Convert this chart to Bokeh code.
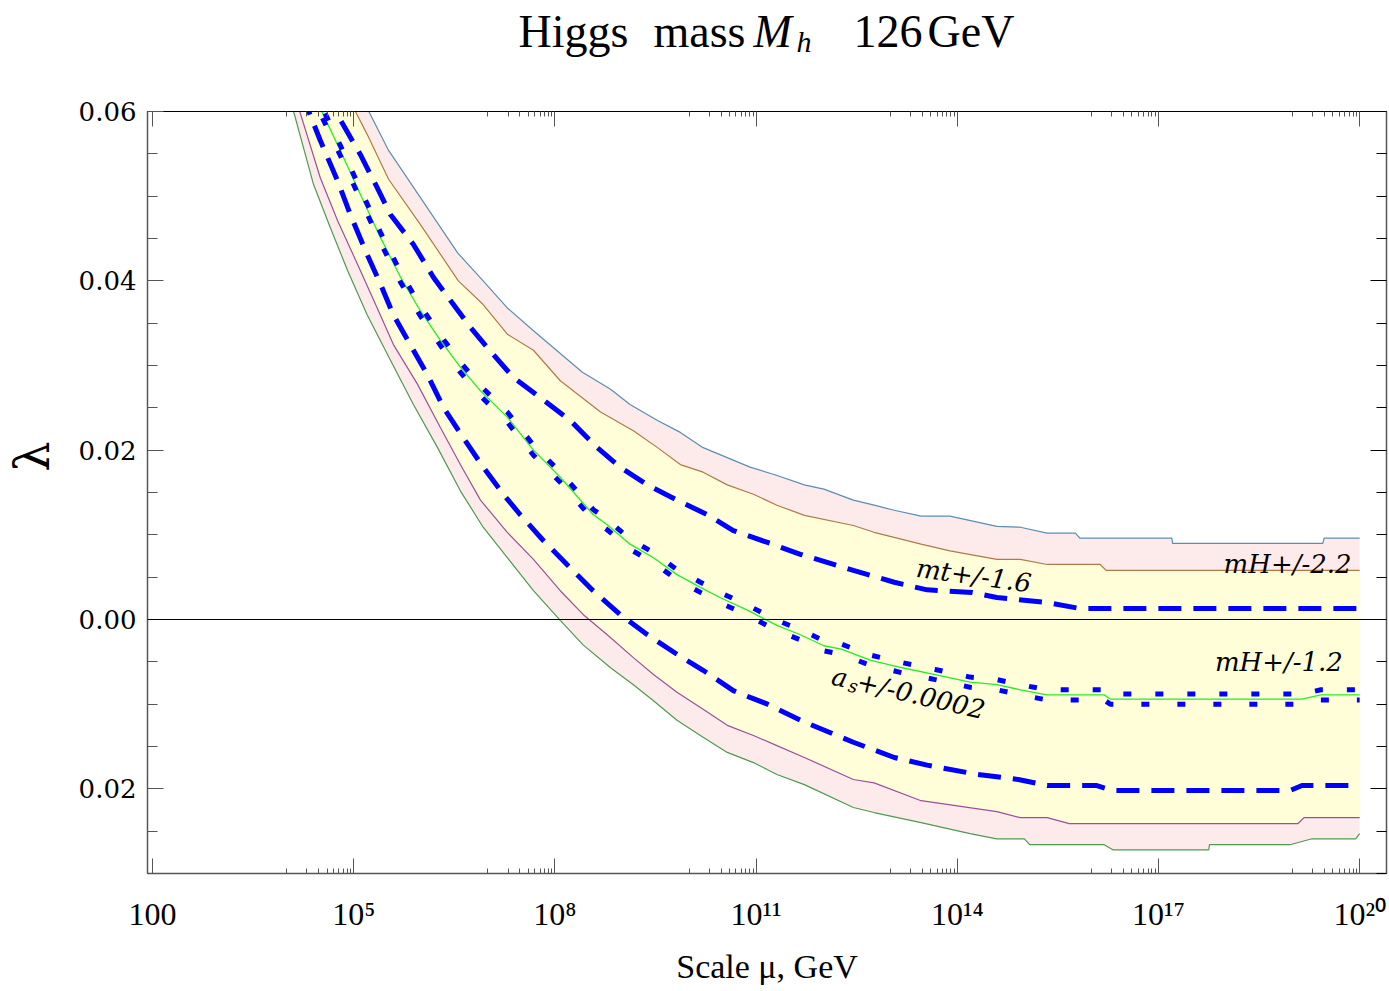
from bokeh.plotting import figure
from bokeh.layouts import column
from bokeh.models import (Range1d, LinearAxis, LogAxis, FixedTicker, Label,
                          CustomJSTickFormatter, Span)
from bokeh.core.properties import value
from bokeh.embed import file_html
from bokeh.resources import INLINE

# ---------------- data (x = log10(mu / GeV), y = lambda) ----------------
outer_hi_x = [4.84, 5.20, 5.52, 6.55, 6.93, 7.29, 7.68, 8.41, 8.83, 9.12, 9.53, 9.87, 10.21,
              10.91, 11.28, 11.72, 12.01, 12.45, 12.76, 13.06, 13.46, 13.89, 14.59, 14.94,
              15.34, 15.76, 15.83, 17.20, 17.21, 19.45, 19.47, 20.0]
outer_hi_y = [0.066, 0.0604, 0.0554, 0.0433, 0.0400, 0.0368, 0.0341, 0.0292, 0.0272, 0.0254,
              0.0235, 0.0221, 0.0203, 0.0180, 0.0171, 0.0159, 0.0154, 0.0141, 0.0135, 0.0129,
              0.0122, 0.0122, 0.0110, 0.0109, 0.0102, 0.0102, 0.0096, 0.0096, 0.0090, 0.0090,
              0.0096, 0.0096]

inner_hi_x = [4.64, 5.00, 5.20, 5.52, 5.99, 6.56, 6.93, 7.29, 7.68, 8.08, 8.68, 9.17, 9.53,
              9.87, 10.21, 10.57, 10.96, 11.31, 11.72, 12.45, 12.76, 13.46, 13.89, 14.59,
              14.94, 15.34, 16.13, 16.22, 20.0]
inner_hi_y = [0.066, 0.0604, 0.0573, 0.0520, 0.0467, 0.0400, 0.0372, 0.0337, 0.0318, 0.0282,
              0.0245, 0.0223, 0.0203, 0.0183, 0.0174, 0.0159, 0.0148, 0.0135, 0.0123, 0.0111,
              0.0103, 0.0089, 0.0081, 0.0071, 0.0071, 0.0065, 0.0065, 0.0058, 0.0058]

outer_lo_x = [3.90, 4.09, 4.40, 4.65, 4.91, 5.20, 5.55, 5.89, 6.25, 6.59, 6.93, 7.29, 7.68,
              8.08, 8.42, 8.83, 9.17, 9.47, 9.82, 10.21, 10.57, 10.96, 11.31, 11.72, 12.45,
              12.76, 13.46, 14.19, 14.59, 15.00, 15.08, 16.19, 16.32, 17.75, 17.76, 18.96,
              19.29, 19.94, 20.0]
outer_lo_y = [0.066, 0.0604, 0.0514, 0.0463, 0.0412, 0.0360, 0.0306, 0.0254, 0.0203, 0.0152,
              0.0109, 0.0073, 0.0034, -0.0001, -0.0030, -0.0057, -0.0077, -0.0096, -0.0119,
              -0.0139, -0.0157, -0.0169, -0.0183, -0.0195, -0.0222, -0.0228, -0.0240, -0.0253,
              -0.0259, -0.0259, -0.0266, -0.0266, -0.0272, -0.0272, -0.0266, -0.0266, -0.0259,
              -0.0259, -0.0253]

inner_lo_x = [3.96, 4.18, 4.50, 4.76, 5.06, 5.35, 5.59, 5.95, 6.29, 6.59, 6.89, 7.29, 7.68,
              8.08, 8.42, 8.78, 9.17, 9.47, 9.82, 10.21, 10.57, 10.96, 11.31, 11.72, 12.45,
              12.76, 13.46, 14.59, 14.94, 15.34, 15.67, 19.08, 19.17, 20.0]
inner_lo_y = [0.066, 0.0604, 0.0522, 0.0471, 0.0419, 0.0368, 0.0325, 0.0278, 0.0227, 0.0183,
              0.0141, 0.0103, 0.0071, 0.0034, 0.0006, -0.0018, -0.0045, -0.0065, -0.0086,
              -0.0106, -0.0125, -0.0137, -0.0149, -0.0163, -0.0189, -0.0193, -0.0214, -0.0227,
              -0.0234, -0.0234, -0.0241, -0.0241, -0.0234, -0.0234]

central_x = [4.16, 4.50, 4.80, 5.10, 5.40, 5.70, 5.99, 6.29, 6.59, 6.89, 7.29, 7.68, 8.08,
             8.57, 8.78, 9.12, 9.47, 9.82, 10.17, 10.46, 10.87, 11.31, 11.66, 12.01, 12.27,
             12.70, 13.18, 13.67, 14.19, 14.59, 14.94, 15.34, 16.19, 16.28, 19.14, 19.42, 20.0]
central_y = [0.066, 0.0604, 0.0554, 0.0502, 0.0451, 0.0404, 0.0365, 0.0330, 0.0298, 0.0270,
             0.0239, 0.0200, 0.0168, 0.0124, 0.0112, 0.0089, 0.0073, 0.0053, 0.0038, 0.0026,
             0.0011, -0.0007, -0.0018, -0.0031, -0.0035, -0.0048, -0.0057, -0.0065, -0.0074,
             -0.0077, -0.0083, -0.0089, -0.0089, -0.0094, -0.0094, -0.0089, -0.0089]

as_hi_x = central_x
as_hi_y = [0.0666, 0.0610, 0.0560, 0.0508, 0.0457, 0.0410, 0.0371, 0.0336, 0.0304, 0.0276,
           0.0245, 0.0206, 0.0174, 0.0130, 0.0118, 0.0095, 0.0079, 0.0059, 0.0044, 0.0032,
           0.0017, -0.0001, -0.0012, -0.0025, -0.0029, -0.0042, -0.0051, -0.0059, -0.0068,
           -0.0071, -0.0077, -0.0083, -0.0083, -0.0088, -0.0088, -0.0083, -0.0083]
as_lo_x = central_x
as_lo_y = [0.0654, 0.0598, 0.0548, 0.0496, 0.0445, 0.0398, 0.0359, 0.0324, 0.0292, 0.0264,
           0.0233, 0.0194, 0.0162, 0.0118, 0.0106, 0.0083, 0.0067, 0.0047, 0.0032, 0.0020,
           0.0005, -0.0013, -0.0024, -0.0037, -0.0041, -0.0054, -0.0063, -0.0071, -0.0080,
           -0.0083, -0.0089, -0.0095, -0.0095, -0.0100, -0.0100, -0.0095, -0.0095]

mt_hi_x = [4.29, 4.70, 5.10, 5.35, 5.55, 5.89, 6.19, 6.44, 6.74, 7.08, 7.38, 7.83, 8.23, 8.63,
           8.97, 9.38, 9.82, 10.27, 10.66, 11.17, 11.66, 12.45, 13.06, 13.55, 14.22, 14.59,
           15.34, 15.83, 20.0]
mt_hi_y = [0.066, 0.0604, 0.0549, 0.0510, 0.0478, 0.0443, 0.0404, 0.0377, 0.0345, 0.0313,
           0.0286, 0.0259, 0.0235, 0.0203, 0.0180, 0.0159, 0.0141, 0.0124, 0.0105, 0.0091,
           0.0077, 0.0058, 0.0044, 0.0035, 0.0032, 0.0026, 0.0020, 0.0013, 0.0013]

mt_lo_x = [4.03, 4.31, 4.50, 4.76, 4.95, 5.20, 5.40, 5.59, 5.84, 6.10, 6.34, 6.63, 6.93, 7.23,
           7.48, 7.83, 8.18, 8.57, 8.97, 9.38, 9.82, 10.21, 10.66, 10.91, 11.17, 11.66, 12.45,
           13.06, 13.55, 14.30, 14.91, 15.34, 16.07, 16.32, 18.96, 19.14, 20.0]
mt_lo_y = [0.066, 0.0604, 0.0566, 0.0518, 0.0478, 0.0431, 0.0396, 0.0360, 0.0325, 0.0289,
           0.0250, 0.0215, 0.0180, 0.0148, 0.0124, 0.0093, 0.0065, 0.0034, 0.0006, -0.0018,
           -0.0041, -0.0060, -0.0084, -0.0092, -0.0100, -0.0119, -0.0145, -0.0163, -0.0172,
           -0.0183, -0.0189, -0.0196, -0.0196, -0.0202, -0.0202, -0.0196, -0.0196]

x_major_exp = [2, 5, 8, 11, 14, 17, 20]
x_tick_labels = ["100", "10\u2075", "10\u2078", "10\u00b9\u00b9", "10\u00b9\u2074",
                 "10\u00b9\u2077", "10\u00b2\u2070"]
y_major = [-0.02, 0.0, 0.02, 0.04, 0.06]
y_tick_labels = ["0.02", "0.00", "0.02", "0.04", "0.06"]
y_minor = [-0.03, -0.025, -0.015, -0.01, -0.005, 0.005, 0.01, 0.015, 0.025, 0.03, 0.035,
           0.045, 0.05, 0.055]

title_parts = ["Higgs", "mass", "M", "h", "126", "GeV"]

# ---------------- styling ----------------
PINK = "#FDEBEB"
YELLOW = "#FFFED9"
C_OUT_HI = "#5B8DB5"
C_IN_HI = "#B07A48"
C_IN_LO = "#9C4F9C"
C_OUT_LO = "#4E9A4E"
C_CENTRAL = "#22EE22"
BLUE = "#0000FF"
AXC = "#555555"

W = 1389
TITLE_H = 80
MAIN_H = 991 - TITLE_H
FRAME_L, FRAME_R = 147, 1386


def mu(xs):
    return [10.0 ** v for v in xs]


# ---------------- title strip (frame aligned with main plot frame) ----------------
t = figure(width=W, height=TITLE_H, x_range=Range1d(FRAME_L, FRAME_R),
           y_range=Range1d(0, TITLE_H), title=None,
           output_backend="svg", toolbar_location=None, x_axis_location=None,
           y_axis_location=None, min_border=0)
t.outline_line_color = None
t.xgrid.grid_line_color = None
t.ygrid.grid_line_color = None
tx = [518, 653, 753, 796, 853, 927]
ty = [49, 49, 49, 39, 49, 49]
tsize = ["46px", "46px", "46px", "30px", "46px", "46px"]
tstyle = ["normal", "normal", "italic", "italic", "normal", "normal"]
t.text(x=tx, y=ty, text=title_parts, text_font=value("Liberation Serif"),
       text_font_size=tsize, text_font_style=tstyle, text_align="left",
       text_baseline="alphabetic", text_color="black")

# ---------------- main plot ----------------
p = figure(width=W, height=MAIN_H, x_axis_type="log",
           x_range=Range1d(10 ** 1.925, 10 ** 20.40), y_range=Range1d(-0.03, 0.06),
           output_backend="svg", toolbar_location=None,
           min_border_left=FRAME_L, min_border_right=W - FRAME_R, min_border_top=31,
           min_border_bottom=118)
p.xgrid.grid_line_color = None
p.ygrid.grid_line_color = None
p.outline_line_color = "black"
p.outline_line_width = 1
p.background_fill_color = "white"
p.border_fill_color = "white"

p.patch(mu(outer_lo_x + outer_hi_x[::-1]), outer_lo_y + outer_hi_y[::-1],
        fill_color=PINK, line_color=None)
p.patch(mu(inner_lo_x + inner_hi_x[::-1]), inner_lo_y + inner_hi_y[::-1],
        fill_color=YELLOW, line_color=None)

p.line(mu(outer_hi_x), outer_hi_y, line_color=C_OUT_HI, line_width=1.2)
p.line(mu(inner_hi_x), inner_hi_y, line_color=C_IN_HI, line_width=1.2)
p.line(mu(inner_lo_x), inner_lo_y, line_color=C_IN_LO, line_width=1.2)
p.line(mu(outer_lo_x), outer_lo_y, line_color=C_OUT_LO, line_width=1.2)
p.line(mu(central_x), central_y, line_color=C_CENTRAL, line_width=1.3)

p.add_layout(Span(location=0, dimension="width", line_color="black", line_width=1))

p.line(mu(mt_hi_x), mt_hi_y, line_color=BLUE, line_width=5, line_dash="23 12")
p.line(mu(mt_lo_x), mt_lo_y, line_color=BLUE, line_width=5, line_dash="23 12")
p.line(mu(as_hi_x), as_hi_y, line_color=BLUE, line_width=5, line_dash="8 24")
p.line(mu(as_lo_x), as_lo_y, line_color=BLUE, line_width=5, line_dash="8 28",
       line_dash_offset=14)

# in-plot labels
lab_font = "DejaVu Serif"
for txt, lx, ly, ang, align, size in [
        ("mt+/-1.6", 13.39, 0.0061, -0.135, "left", "26px"),
        ("a", 12.134, -0.00661, -0.225, "left", "26px"),
        ("s", 12.380, -0.00772, -0.225, "left", "18px"),
        ("+/-0.0002", 12.513, -0.00730, -0.225, "left", "26px"),
        ("mH+/-2.2", 19.88, 0.0065, 0.0, "right", "26px"),
        ("mH+/-1.2", 19.75, -0.0050, 0.0, "right", "26px")]:
    p.add_layout(Label(x=10 ** lx, y=ly, text=txt, angle=ang, text_align=align,
                       text_baseline="alphabetic", text_font=lab_font,
                       text_font_style="italic", text_font_size=size,
                       text_color="black"))

# ---------------- axes ----------------
x_minor = [m * 10.0 ** (k - 1) for k in x_major_exp[1:] for m in range(1, 10)]
xticker = FixedTicker(ticks=mu(x_major_exp), minor_ticks=x_minor)
xfmt = CustomJSTickFormatter(args=dict(exps=x_major_exp, labels=x_tick_labels),
                             code="const e = Math.round(Math.log10(tick));"
                                  "const i = exps.indexOf(e);"
                                  "return i >= 0 ? labels[i] : '';")
yticker = FixedTicker(ticks=y_major, minor_ticks=y_minor)
yfmt = CustomJSTickFormatter(args=dict(vals=y_major, labels=y_tick_labels),
                             code="for (let i = 0; i < vals.length; i++) {"
                                  " if (Math.abs(vals[i] - tick) < 1e-9) return labels[i]; }"
                                  " return '';")
blank = CustomJSTickFormatter(code="return '';")

xa = p.xaxis[0]
xa.ticker = xticker
xa.formatter = xfmt
xa.major_tick_in = 15
xa.major_tick_out = 0
xa.minor_tick_in = 5
xa.minor_tick_out = 0
xa.major_label_standoff = 22
xa.major_label_text_font = "Liberation Serif"
xa.major_label_text_font_size = "32px"
xa.major_label_text_color = "black"
xa.axis_label = "Scale \u03bc, GeV"
xa.axis_label_text_font = "Liberation Serif"
xa.axis_label_text_font_size = "34px"
xa.axis_label_text_font_style = "normal"
xa.axis_label_text_color = "black"
xa.axis_label_standoff = 13
xa.axis_line_color = AXC
xa.axis_line_width = 1.5
xa.major_tick_line_color = AXC
xa.minor_tick_line_color = AXC

ya = p.yaxis[0]
ya.ticker = yticker
ya.formatter = yfmt
ya.major_tick_in = 16
ya.major_tick_out = 0
ya.minor_tick_in = 10
ya.minor_tick_out = 0
ya.major_label_standoff = 11
ya.major_label_text_font = "DejaVu Serif"
ya.major_label_text_font_size = "26px"
ya.major_label_text_color = "black"
ya.axis_label = "\u2003\u2002\u03bb"
ya.axis_label_text_font = "DejaVu Serif"
ya.axis_label_text_font_size = "48px"
ya.axis_label_text_font_style = "normal"
ya.axis_label_text_color = "black"
ya.axis_label_standoff = 16
ya.axis_line_color = AXC
ya.axis_line_width = 1.5
ya.major_tick_line_color = AXC
ya.minor_tick_line_color = AXC

top = LogAxis(ticker=xticker, formatter=blank, major_tick_in=15, major_tick_out=0,
              minor_tick_in=5, minor_tick_out=0, major_label_standoff=0,
              major_label_text_font_size="0px", axis_line_color="black",
              major_tick_line_color=AXC, minor_tick_line_color=AXC)
p.add_layout(top, "above")

right = LinearAxis(ticker=yticker, formatter=blank, major_tick_in=16, major_tick_out=0,
                   minor_tick_in=10, minor_tick_out=0, major_label_standoff=0,
                   major_label_text_font_size="0px", axis_line_color=AXC,
                   axis_line_width=1.5, major_tick_line_color="black",
                   minor_tick_line_color="black")
p.add_layout(right, "right")

layout = column(t, p, spacing=0)
open("out.html", "w").write(file_html(layout, INLINE))
